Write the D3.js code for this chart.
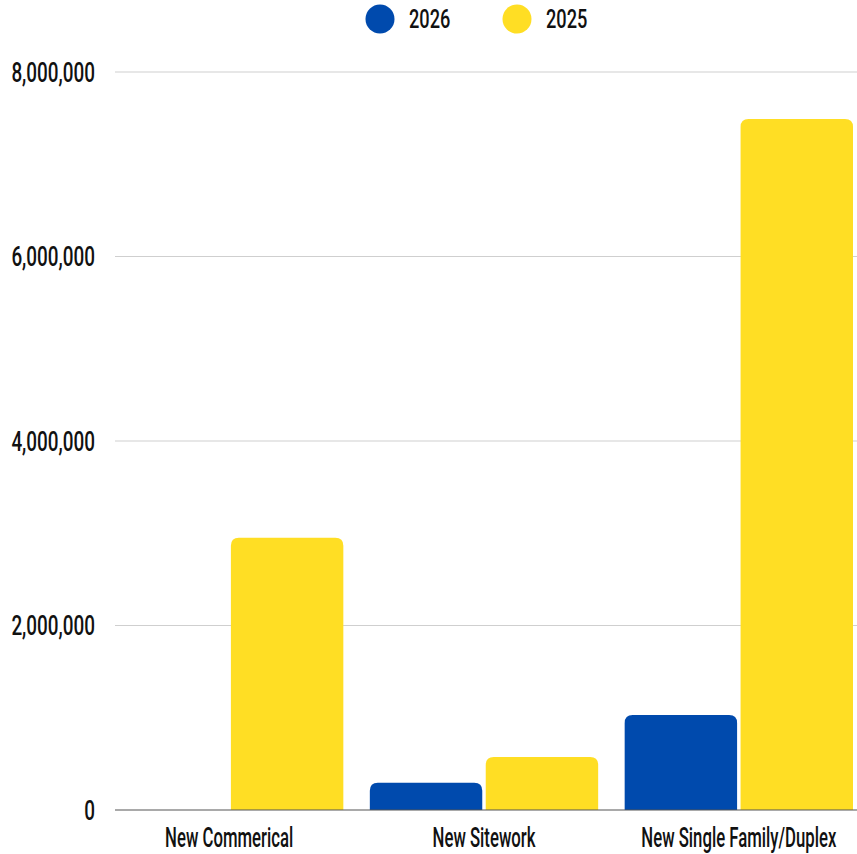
<!DOCTYPE html>
<html>
<head>
<meta charset="utf-8">
<script src="https://cdn.jsdelivr.net/npm/d3@7"></script>
<style>
  body { margin: 0; background: #fff; }
  text { font-family: Roboto, "DejaVu Sans", sans-serif; fill: #111; font-weight: 500; }
</style>
</head>
<body>
<svg id="chart"></svg>
<script>
var categories = ["New Commerical", "New Sitework", "New Single Family/Duplex"];
var seriesNames = ["2026", "2025"];
var values2026 = [0, 296000, 1030000];
var values2025 = [2950000, 575000, 7490000];
var yTicks = [0, 2000000, 4000000, 6000000, 8000000];
var colors = ["#004AAD", "#FFDE24"];

var width = 857, height = 854;
var margin = { top: 72, right: 4, bottom: 44, left: 115 };
var squeeze = 0.7; // condensed look of the original font
var squeezeX = 0.62;

var svg = d3.select("#chart").attr("width", width).attr("height", height);

var x0 = d3.scaleBand()
  .domain(categories)
  .range([margin.left, width - margin.right])
  .paddingInner(0.104)
  .paddingOuter(0);
var x1 = d3.scaleBand()
  .domain(seriesNames)
  .range([0, x0.bandwidth()])
  .paddingInner(0.03);
var y = d3.scaleLinear()
  .domain([0, 8000000])
  .range([height - margin.bottom, margin.top]);

// gridlines
svg.append("g")
  .selectAll("line")
  .data(yTicks.slice(1))
  .enter()
  .append("line")
  .attr("x1", margin.left)
  .attr("x2", width)
  .attr("y1", function (d) { return y(d); })
  .attr("y2", function (d) { return y(d); })
  .attr("stroke", "#cfcfcf")
  .attr("stroke-width", 1);

// y labels
svg.append("g")
  .selectAll("g")
  .data(yTicks)
  .enter()
  .append("g")
  .attr("transform", function (d) { return "translate(95," + y(d) + ") scale(" + squeeze + ",1)"; })
  .append("text")
  .attr("dy", "0.36em")
  .attr("text-anchor", "end")
  .style("font-size", "27px")
  .text(function (d) { return d3.format(",")(d); });

// bars with rounded tops
function barPath(x, w, yTop, yBase, r) {
  var h = yBase - yTop;
  if (h <= 0) return "";
  r = Math.min(r, h, w / 2);
  return "M" + x + "," + yBase +
    "V" + (yTop + r) +
    "Q" + x + "," + yTop + " " + (x + r) + "," + yTop +
    "H" + (x + w - r) +
    "Q" + (x + w) + "," + yTop + " " + (x + w) + "," + (yTop + r) +
    "V" + yBase + "Z";
}

var rows = categories.map(function (c, i) {
  return { cat: c, vals: [values2026[i], values2025[i]] };
});

var groups = svg.append("g")
  .selectAll("g")
  .data(rows)
  .enter()
  .append("g")
  .attr("transform", function (d) { return "translate(" + x0(d.cat) + ",0)"; });

groups.selectAll("path")
  .data(function (d) {
    return d.vals.map(function (v, j) { return { key: seriesNames[j], value: v, j: j }; });
  })
  .enter()
  .append("path")
  .attr("fill", function (d) { return colors[d.j]; })
  .attr("d", function (d) {
    return barPath(x1(d.key), x1.bandwidth(), y(d.value), y(0), 8);
  });

// baseline
svg.append("line")
  .attr("x1", margin.left)
  .attr("x2", width)
  .attr("y1", y(0))
  .attr("y2", y(0))
  .attr("stroke", "#555")
  .attr("stroke-width", 1.2);

// x labels
svg.append("g")
  .selectAll("g")
  .data(categories)
  .enter()
  .append("g")
  .attr("transform", function (d) {
    return "translate(" + (x0(d) + x0.bandwidth() / 2) + ",847) scale(" + squeezeX + ",1)";
  })
  .append("text")
  .attr("text-anchor", "middle")
  .style("font-size", "27px")
  .text(function (d) { return d; });

// legend
var legendX = [380, 517];
var legend = svg.append("g")
  .selectAll("g")
  .data(seriesNames)
  .enter()
  .append("g")
  .attr("transform", function (d, i) { return "translate(" + legendX[i] + ",19)"; });
legend.append("circle")
  .attr("r", 14.5)
  .attr("fill", function (d, i) { return colors[i]; });
legend.append("g")
  .attr("transform", "translate(29,0) scale(" + squeeze + ",1)")
  .append("text")
  .attr("dy", "0.36em")
  .style("font-size", "26px")
  .text(function (d) { return d; });
</script>
</body>
</html>
